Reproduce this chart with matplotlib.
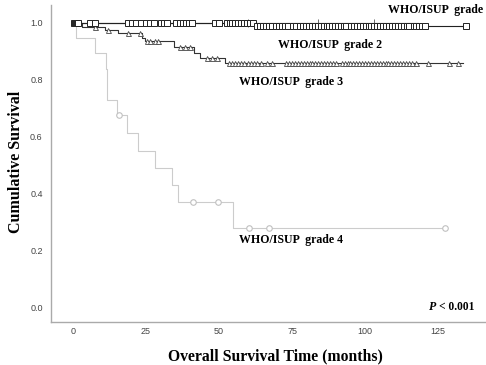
import numpy as np
import matplotlib
matplotlib.use("Agg")
import matplotlib.pyplot as plt

# Kaplan-Meier step data per WHO/ISUP grade (months, cumulative survival)
g1_end = 118.0
g1_censor = [60.0, 84.0, 103.0]

g2_event_t = [62.5]
g2_event_s = [0.99]
g2_end = 134.6
g2_censor = [0.2, 0.6, 1.0, 1.4, 1.8, 5.9, 7.7, 19.0, 20.3, 21.5, 23.4, 25.0, 26.4,
             27.9, 30.0, 31.1, 32.2, 35.4, 36.5, 37.6, 38.7, 39.8, 40.9, 48.6, 50.0,
             52.6, 53.6, 54.6, 55.6, 56.6, 57.6, 58.6, 59.6, 60.6, 61.6,
             63.0, 64.0, 65.0, 66.0, 67.0, 68.2, 69.6, 70.6, 71.6, 72.6, 73.6, 75.4,
             76.4, 77.8, 78.8, 79.8, 80.8, 81.8, 82.8, 83.8, 84.8, 85.8, 86.8, 87.8,
             88.8, 89.8, 90.8, 91.8, 92.8, 93.6, 95.2, 96.2, 97.2, 98.2, 99.2, 100.2,
             101.2, 102.2, 103.2, 104.2, 105.2, 106.2, 107.2, 108.2, 109.2, 110.2,
             111.2, 112.2, 113.2, 114.2, 115.0, 116.6, 117.6, 118.6, 119.6, 120.6,
             134.6]

g3_event_t = [3.0, 11.0, 15.5, 23.5, 24.5, 34.5, 41.5, 43.5, 52.0]
g3_event_s = [0.985, 0.974, 0.963, 0.945, 0.937, 0.916, 0.895, 0.876, 0.858]
g3_end = 133.4
g3_censor = [7.6, 12.0, 18.9, 23.0, 25.3, 26.5, 28.0, 29.0, 36.6, 38.2, 40.0, 46.0,
             47.5, 49.3, 53.5, 54.5, 55.5, 56.5, 57.5, 58.5, 60.0, 61.0, 62.0, 63.0,
             64.5, 66.5, 68.0, 73.0, 74.0, 75.0, 76.0, 77.0, 78.0, 79.0, 80.0, 81.0,
             82.0, 83.0, 84.0, 85.0, 86.0, 87.0, 88.0, 89.0, 90.0, 92.0, 93.0, 94.0,
             95.0, 96.0, 97.0, 98.0, 99.0, 100.0, 101.0, 102.0, 103.0, 104.0, 105.0,
             106.0, 107.0, 108.0, 109.0, 110.0, 111.0, 112.0, 113.0, 114.0, 115.0,
             116.0, 117.5, 121.5, 128.8, 131.7]

g4_event_t = [1.2, 7.4, 11.3, 11.6, 15.2, 18.4, 22.4, 28.2, 33.8, 36.0, 54.9]
g4_event_s = [0.947, 0.895, 0.837, 0.729, 0.676, 0.612, 0.552, 0.490, 0.431, 0.373, 0.279]
g4_end = 127.2
g4_censor = [15.9, 41.2, 49.8, 60.1, 67.0, 127.2]

x_ticks = [0, 25, 50, 75, 100, 125]
y_ticks = [0.0, 0.2, 0.4, 0.6, 0.8, 1.0]

labels = ["WHO/ISUP  grade 1", "WHO/ISUP  grade 2", "WHO/ISUP  grade 3", "WHO/ISUP  grade 4"]


def km_steps(event_t, event_s, end):
    t = np.concatenate([[0.0], event_t, [end]])
    s = np.concatenate([[1.0], event_s, [event_s[-1] if len(event_s) else 1.0]])
    return t, s


def surv_at(times, event_t, event_s):
    idx = np.searchsorted(np.asarray(event_t), np.asarray(times), side="right")
    levels = np.concatenate([[1.0], event_s])
    return levels[idx]


fig = plt.figure(figsize=(4.86, 3.65), dpi=100)
ax = fig.add_axes([0.105, 0.118, 0.895, 0.868])

# grade 4 (light grey, circles)
t, s = km_steps(g4_event_t, g4_event_s, g4_end)
ax.step(t, s, where="post", color="#cccccc", lw=0.8, zorder=2)
ax.plot(g4_censor, surv_at(g4_censor, g4_event_t, g4_event_s), ls="none", marker="o",
        ms=4.0, mfc="white", mec="#c0c0c0", mew=0.8, zorder=3)

# grade 1 (flat at 1.0)
ax.plot([0, g1_end], [1.0, 1.0], color="#222222", lw=0.8, zorder=2)
ax.plot(g1_censor, np.ones(len(g1_censor)), ls="none", marker="|", ms=6,
        mec="#555555", mew=0.6, zorder=3)

# grade 3 (triangles)
t, s = km_steps(g3_event_t, g3_event_s, g3_end)
ax.step(t, s, where="post", color="#333333", lw=0.8, zorder=2)
ax.plot(g3_censor, surv_at(g3_censor, g3_event_t, g3_event_s), ls="none", marker="^",
        ms=3.6, mfc="white", mec="#444444", mew=0.6, zorder=3)

# grade 2 (squares)
t, s = km_steps(g2_event_t, g2_event_s, g2_end)
ax.step(t, s, where="post", color="#222222", lw=0.8, zorder=4)
ax.plot(g2_censor, surv_at(g2_censor, g2_event_t, g2_event_s), ls="none", marker="s",
        ms=4.2, mfc="white", mec="#222222", mew=0.7, zorder=5)

ax.set_xlim(-7.5, 141.4)
ax.set_ylim(-0.049, 1.062)
ax.set_xticks(x_ticks)
ax.set_yticks(y_ticks)
ax.set_xticklabels([str(v) for v in x_ticks])
ax.set_yticklabels([f"{v:.1f}" for v in y_ticks])
ax.tick_params(axis="x", length=0, labelsize=6.5, labelcolor="#444444", pad=4)
ax.tick_params(axis="y", length=0, labelsize=6.5, labelcolor="#444444", pad=6)
for lab in ax.get_xticklabels() + ax.get_yticklabels():
    lab.set_fontfamily("Liberation Sans")

for side in ("top", "right"):
    ax.spines[side].set_visible(False)
for side in ("left", "bottom"):
    ax.spines[side].set_color("#aaaaaa")
    ax.spines[side].set_linewidth(1.0)

serif = "Liberation Serif"
ax.set_xlabel("Overall Survival Time (months)", fontfamily=serif, fontweight="bold",
              fontsize=11.3)
ax.set_ylabel("Cumulative Survival", fontfamily=serif, fontweight="bold", fontsize=11.5)
ax.xaxis.set_label_coords(0.515, -0.085)
ax.yaxis.set_label_coords(-0.062, 0.505)

txt = dict(fontfamily=serif, fontweight="bold", fontsize=8.6, ha="left", va="center",
           clip_on=False)
ax.text(107.9, 1.045, labels[0], **txt)
ax.text(70.2, 0.922, labels[1], **txt)
ax.text(56.8, 0.792, labels[2], **txt)
ax.text(56.8, 0.238, labels[3], **txt)
ax.text(121.9, 0.004, "P", fontfamily=serif, fontsize=8.6, fontweight="bold",
        fontstyle="italic", ha="left", va="center")
ax.text(125.4, 0.004, "< 0.001", fontfamily=serif, fontsize=8.3, fontweight="bold",
        ha="left", va="center")

fig.savefig("out.png", dpi=100)
